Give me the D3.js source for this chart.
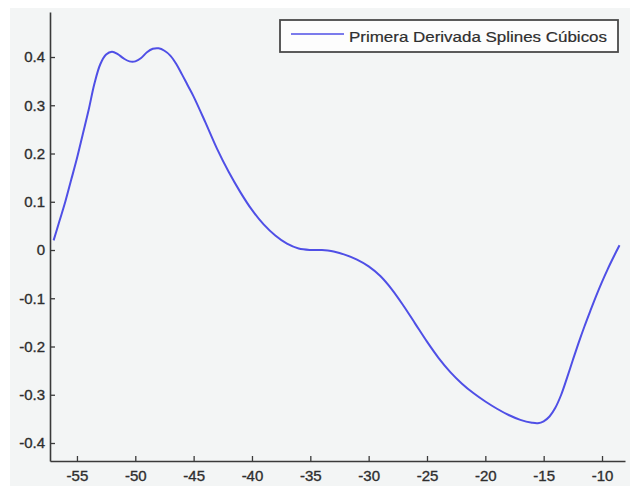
<!DOCTYPE html>
<html>
<head>
<meta charset="utf-8">
<script src="https://cdn.jsdelivr.net/npm/d3@7"></script>
<style>
  html, body { margin: 0; padding: 0; background: #ffffff; }
  svg { display: block; }
</style>
</head>
<body>
<svg id="chart" width="630" height="486"></svg>
<script>
// ---- data ----
const xValues = [-57.0,-56.5,-56.0,-55.5,-55.0,-54.5,-54.0,-53.5,-53.0,-52.5,-52.0,-51.5,-51.0,-50.5,-50.0,-49.5,-49.0,-48.5,-48.0,-47.5,-47.0,-46.5,-46.0,-45.5,-45.0,-44.0,-43.0,-42.0,-41.0,-40.0,-39.0,-38.0,-37.0,-36.0,-35.0,-34.0,-33.5,-33.0,-32.0,-31.0,-30.0,-29.0,-28.0,-27.0,-26.0,-25.0,-24.0,-23.0,-22.0,-21.0,-20.0,-19.0,-18.0,-17.0,-16.0,-15.5,-15.0,-14.5,-14.0,-13.5,-13.0,-12.5,-12.0,-11.5,-11.0,-10.5,-10.0,-9.5,-9.0,-8.5];
const yValues = [0.02,0.06,0.10,0.145,0.19,0.24,0.29,0.345,0.385,0.405,0.411,0.406,0.397,0.391,0.391,0.398,0.41,0.417,0.418,0.413,0.403,0.386,0.364,0.341,0.318,0.265,0.21,0.162,0.12,0.083,0.053,0.03,0.013,0.003,0.0,0.0,-0.001,-0.003,-0.010,-0.020,-0.034,-0.054,-0.082,-0.116,-0.153,-0.19,-0.224,-0.253,-0.277,-0.297,-0.314,-0.329,-0.342,-0.352,-0.358,-0.359,-0.355,-0.345,-0.327,-0.300,-0.265,-0.228,-0.192,-0.158,-0.126,-0.095,-0.066,-0.039,-0.014,0.01];
const xTicks = [-55,-50,-45,-40,-35,-30,-25,-20,-15,-10];
const yTicks = [-0.4,-0.3,-0.2,-0.1,0,0.1,0.2,0.3,0.4];
const seriesName = "Primera Derivada Splines Cúbicos";

// ---- layout ----
const svg = d3.select("#chart");
const mLeft = 50, mRight = 625, mTop = 12, mBottom = 461;
const fontFam = "'Liberation Sans', Arial, Helvetica, sans-serif";
const axisColor = "#3a3a3a";
const textColor = "#2e2e2e";
const hyphenFmt = d => String(d);

svg.append("rect").attr("x", 10).attr("y", 8).attr("width", 620).attr("height", 478).attr("fill", "#f3f5f5");

const x = d3.scaleLinear().domain([-57.31, -8.03]).range([mLeft, mRight]);
const y = d3.scaleLinear().domain([-0.4373, 0.4933]).range([mBottom, mTop]);

// X axis
const xAxis = d3.axisBottom(x).tickValues(xTicks).tickSizeInner(-5).tickSizeOuter(0).tickPadding(10)
  .tickFormat(hyphenFmt);
const gx = svg.append("g").attr("transform", `translate(0,${mBottom})`).call(xAxis);
gx.select(".domain").attr("stroke", axisColor).attr("stroke-width", 1.6);
gx.selectAll(".tick line").attr("stroke", axisColor).attr("stroke-width", 1.3);
gx.selectAll(".tick text").attr("font-family", fontFam).attr("font-size", 15).attr("fill", textColor)
  .attr("stroke", textColor).attr("stroke-width", 0.35).attr("dy", "0.75em").attr("y", 9);

// Y axis
const yAxis = d3.axisLeft(y).tickValues(yTicks).tickSizeInner(-5).tickSizeOuter(0).tickPadding(5)
  .tickFormat(hyphenFmt);
const gy = svg.append("g").attr("transform", `translate(${mLeft},0)`).call(yAxis);
gy.select(".domain").attr("stroke", axisColor).attr("stroke-width", 1.6);
gy.selectAll(".tick line").attr("stroke", axisColor).attr("stroke-width", 1.3);
gy.selectAll(".tick text").attr("font-family", fontFam).attr("font-size", 15).attr("fill", textColor)
  .attr("stroke", textColor).attr("stroke-width", 0.35).attr("x", -5);

// Curve
const data = xValues.map((d, i) => ({ x: d, y: yValues[i] }));
const line = d3.line().x(d => x(d.x)).y(d => y(d.y)).curve(d3.curveCatmullRom.alpha(0.5));
svg.append("path").datum(data).attr("d", line).attr("fill", "none")
  .attr("stroke", "#4f4fe6").attr("stroke-width", 2).attr("stroke-linejoin", "round");

// Legend
const lg = svg.append("g");
lg.append("rect").attr("x", 280).attr("y", 20).attr("width", 338).attr("height", 32)
  .attr("fill", "#fdfdfd").attr("stroke", "#4a4a4a").attr("stroke-width", 1.8);
lg.append("line").attr("x1", 291).attr("x2", 344).attr("y1", 34).attr("y2", 34)
  .attr("stroke", "#4f4fe6").attr("stroke-width", 1.6);
lg.append("text").attr("x", 349).attr("y", 42).attr("font-family", fontFam).attr("font-size", 15)
  .attr("fill", textColor).attr("stroke", textColor).attr("stroke-width", 0.2)
  .attr("textLength", 258).attr("lengthAdjust", "spacingAndGlyphs").text(seriesName);
</script>
</body>
</html>
